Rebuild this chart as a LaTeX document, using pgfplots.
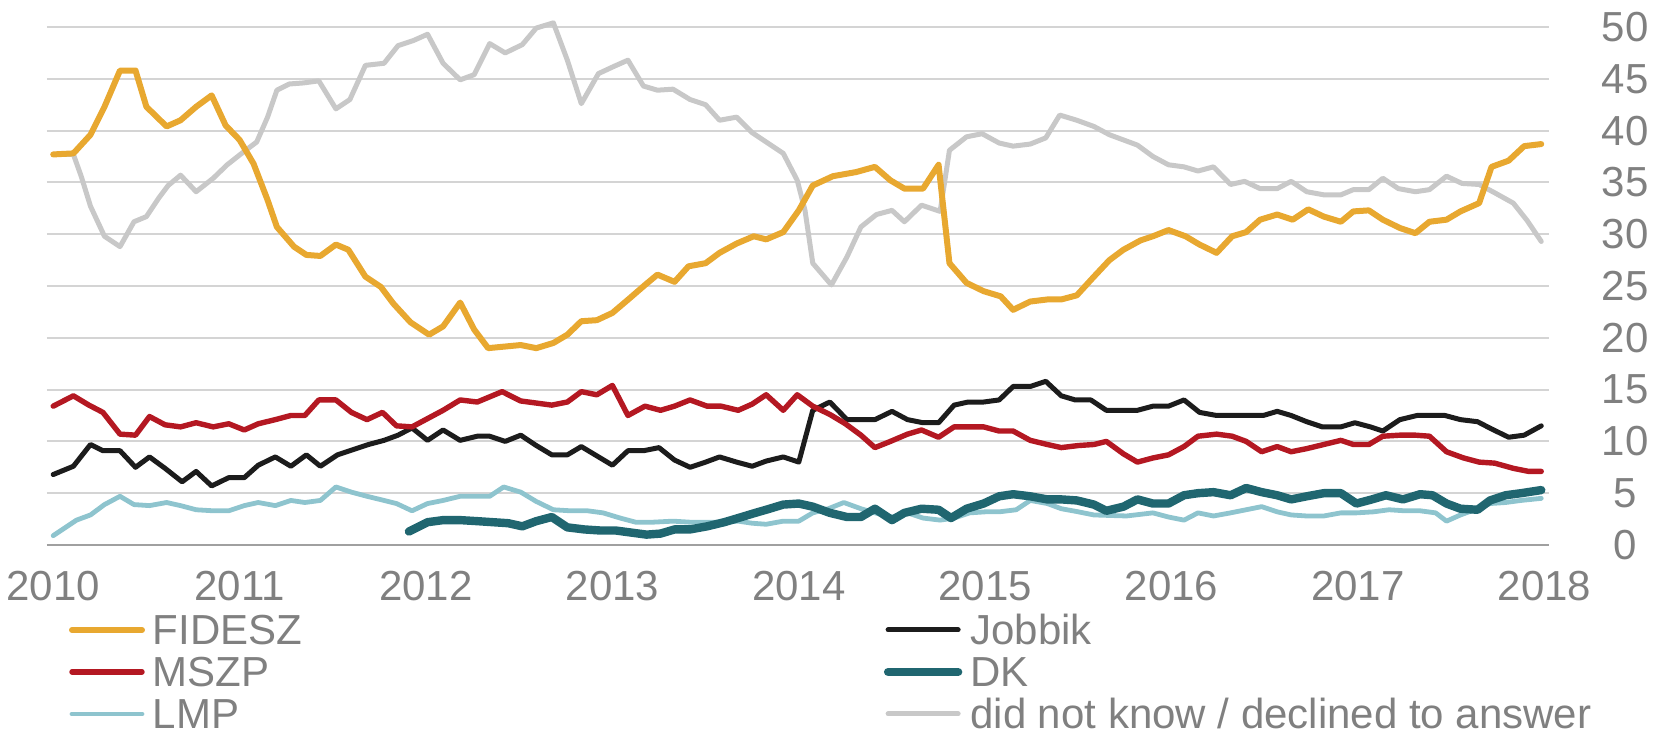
\documentclass[border=0pt]{standalone}
\usepackage{pgfplots}
\pgfplotsset{compat=1.18}
\usepackage{fontspec}
\setmainfont{Liberation Sans}
\definecolor{cFid}{RGB}{232,168,48}
\definecolor{cMszp}{RGB}{180,24,34}
\definecolor{cJob}{RGB}{28,28,28}
\definecolor{cDk}{RGB}{32,102,112}
\definecolor{cLmp}{RGB}{142,196,206}
\definecolor{cDnk}{RGB}{200,200,200}
\definecolor{cGrid}{RGB}{212,212,212}
\definecolor{cAxis}{RGB}{160,160,160}
\definecolor{cText}{RGB}{128,128,128}
\begin{document}
\begin{tikzpicture}[font=\fontsize{10.5}{12.6}\selectfont]
\useasboundingbox (-11.75pt,-47.25pt) rectangle (401.5pt,136.25pt);
\begin{axis}[
  at={(0pt,0pt)}, anchor=south west,
  scale only axis, width=375.5pt, height=129.5pt,
  xmin=-0.4, xmax=96.3, ymin=0, ymax=50,
  clip=false,
  axis line style={draw=none},
  major tick length=0pt,
  xtick={0,12,24,36,48,60,72,84,96},
  xticklabels={2010,2011,2012,2013,2014,2015,2016,2017,2018},
  xticklabel style={anchor=center, yshift=-10.35pt, text=cText},
  ytick={0,5,10,15,20,25,30,35,40,45,50},
  yticklabel pos=right,
  yticklabel style={anchor=center, xshift=19pt, text=cText},
  /pgf/number format/assume math mode=true,
  ymajorgrids, grid style={line width=0.5pt, color=cGrid},
  extra y ticks={0}, extra y tick labels={},
  extra y tick style={grid style={color=cAxis, line width=0.6pt}},
  legend columns=2,
  legend cell align=left,
  legend style={at={(axis description cs:0.01465,-0.1351)}, anchor=north west,
    draw=none, fill=none, inner sep=0pt, outer sep=0pt, row sep=3.0pt,
    nodes={inner sep=0pt, text height=7.5pt, text depth=0pt, text=cText},
    /tikz/every odd column/.append style={column sep=2pt},
    /tikz/every even column/.append style={column sep=145.4pt}},
  legend image code/.code={\draw[#1] (0pt,0pt) -- (17.5pt,0pt);},
  every axis plot/.append style={line join=round, line cap=round},
]
\addlegendimage{cFid, line width=1.5pt}\addlegendentry{FIDESZ}
\addlegendimage{cJob, line width=1.25pt}\addlegendentry{Jobbik}
\addlegendimage{cMszp, line width=1.35pt}\addlegendentry{MSZP}
\addlegendimage{cDk, line width=2.1pt}\addlegendentry{DK}
\addlegendimage{cLmp, line width=1.2pt}\addlegendentry{LMP}
\addlegendimage{cDnk, line width=1.25pt}\addlegendentry{did not know / declined to answer}

% did not know
\addplot[cDnk, line width=1.25pt, forget plot] coordinates {
(0,37.7)(1.3,37.7)(1.8,35.6)(2.4,32.7)(3.3,29.8)(4.3,28.8)(5.2,31.2)(6.0,31.7)(6.8,33.5)(7.4,34.7)(8.2,35.7)(9.2,34.1)(10.3,35.4)(11.2,36.7)(12.3,38.0)(13.1,38.9)(13.8,41.3)(14.4,43.9)(15.2,44.5)(16.1,44.6)(17.1,44.8)(18.2,42.1)(19.1,43.0)(20.1,46.3)(21.3,46.5)(22.2,48.2)(23.2,48.7)(24.1,49.3)(25.1,46.5)(26.2,44.9)(27.1,45.4)(28.1,48.4)(29.1,47.5)(30.2,48.3)(31.1,49.9)(32.2,50.4)(33.1,46.8)(34.0,42.6)(35.1,45.5)(36.1,46.2)(37.0,46.8)(38.0,44.3)(38.9,43.9)(39.9,44.0)(41.0,43.0)(42.0,42.5)(42.9,41.0)(44.0,41.3)(45.0,39.8)(45.9,38.9)(47.0,37.8)(47.9,35.2)(48.4,32.3)(48.9,27.2)(50.1,25.1)(51.1,27.8)(52.0,30.7)(53.0,31.9)(54.0,32.3)(54.8,31.2)(55.9,32.8)(57.1,32.2)(57.7,38.1)(58.8,39.4)(59.8,39.7)(60.9,38.8)(61.8,38.5)(62.9,38.7)(63.9,39.3)(64.8,41.5)(65.9,41.0)(67.0,40.4)(68.0,39.6)(68.9,39.1)(69.8,38.6)(70.8,37.5)(71.8,36.7)(72.8,36.5)(73.7,36.1)(74.7,36.5)(75.8,34.8)(76.7,35.1)(77.7,34.4)(78.8,34.4)(79.7,35.1)(80.7,34.1)(81.8,33.8)(82.9,33.8)(83.7,34.3)(84.7,34.3)(85.6,35.4)(86.6,34.4)(87.7,34.1)(88.6,34.3)(89.7,35.6)(90.7,34.9)(91.8,34.8)(92.8,34.0)(94.0,33.0)(94.9,31.3)(95.8,29.3)
};
% LMP
\addplot[cLmp, line width=1.2pt, forget plot] coordinates {
(0,0.9)(0.5,1.4)(1.5,2.4)(2.4,2.9)(3.3,3.9)(4.3,4.7)(5.2,3.9)(6.2,3.8)(7.3,4.1)(8.2,3.8)(9.2,3.4)(10.3,3.3)(11.3,3.3)(12.3,3.8)(13.2,4.1)(14.3,3.8)(15.3,4.3)(16.2,4.1)(17.2,4.3)(18.2,5.6)(19.2,5.1)(20.2,4.7)(21.3,4.3)(22.1,4.0)(23.1,3.3)(24.1,4.0)(25.1,4.3)(26.2,4.7)(27.3,4.7)(28.1,4.7)(29.0,5.6)(30.1,5.1)(31.1,4.2)(32.2,3.4)(33.3,3.3)(34.4,3.3)(35.4,3.1)(36.5,2.6)(37.5,2.2)(38.6,2.2)(39.9,2.3)(41.0,2.2)(42.1,2.2)(43.2,2.2)(44.1,2.3)(45.0,2.1)(45.9,2.0)(47.0,2.3)(48.0,2.3)(48.9,3.1)(49.9,3.5)(50.9,4.1)(52.0,3.5)(52.9,3.1)(54.0,2.7)(55.0,3.1)(56.0,2.6)(57.1,2.4)(58.0,2.6)(59.0,3.1)(60.0,3.2)(60.9,3.2)(62.0,3.4)(62.9,4.3)(64.0,4.0)(64.9,3.5)(66.0,3.2)(67.0,2.9)(68.0,2.85)(69.1,2.8)(70.8,3.1)(71.8,2.7)(72.8,2.4)(73.7,3.1)(74.7,2.8)(75.8,3.1)(76.8,3.4)(77.8,3.7)(78.8,3.2)(79.7,2.9)(80.7,2.8)(81.8,2.8)(82.9,3.1)(83.9,3.1)(85.0,3.2)(86.0,3.4)(87.0,3.3)(88.0,3.3)(89.0,3.1)(89.7,2.3)(90.6,2.9)(91.7,3.5)(92.5,4.0)(93.5,4.1)(94.5,4.3)(95.8,4.5)
};
% DK
\addplot[cDk, line width=2.1pt, forget plot] coordinates {
(22.9,1.3)(24.1,2.2)(25.1,2.4)(26.2,2.4)(27.3,2.3)(28.3,2.2)(29.3,2.1)(30.2,1.8)(31.1,2.3)(32.1,2.7)(33.1,1.7)(34.2,1.5)(35.2,1.4)(36.2,1.4)(37.2,1.2)(38.2,1.0)(39.1,1.1)(40.0,1.5)(41.0,1.5)(42.1,1.8)(43.2,2.2)(44.1,2.6)(45.2,3.1)(45.9,3.4)(47.0,3.9)(48.0,4.0)(48.9,3.7)(50.0,3.1)(51.1,2.7)(52.0,2.7)(52.9,3.5)(54.0,2.4)(54.8,3.1)(55.9,3.5)(57.0,3.4)(57.8,2.6)(58.8,3.5)(59.9,4.0)(60.9,4.7)(61.8,4.9)(62.9,4.7)(64.0,4.4)(64.9,4.4)(65.9,4.3)(67.0,3.9)(67.8,3.3)(68.9,3.7)(69.8,4.4)(70.8,4.0)(71.8,4.0)(72.8,4.8)(73.7,5.0)(74.7,5.1)(75.8,4.8)(76.8,5.5)(77.8,5.1)(78.8,4.8)(79.7,4.4)(80.7,4.7)(81.8,5.0)(82.9,5.0)(83.9,4.0)(84.9,4.4)(85.8,4.8)(86.9,4.4)(88.0,4.9)(88.8,4.8)(89.7,4.0)(90.6,3.5)(91.7,3.4)(92.5,4.3)(93.5,4.8)(94.5,5.0)(95.8,5.3)
};
% Jobbik
\addplot[cJob, line width=1.25pt, forget plot] coordinates {
(0,6.8)(1.3,7.6)(2.4,9.7)(3.2,9.1)(4.3,9.1)(5.3,7.5)(6.2,8.5)(7.2,7.4)(8.3,6.1)(9.2,7.1)(10.2,5.7)(11.3,6.5)(12.3,6.5)(13.2,7.7)(14.3,8.5)(15.3,7.6)(16.3,8.7)(17.2,7.6)(18.3,8.7)(19.3,9.2)(20.3,9.7)(21.3,10.1)(22.2,10.6)(23.1,11.3)(24.1,10.1)(25.1,11.1)(26.2,10.1)(27.3,10.5)(28.1,10.5)(29.1,10.0)(30.1,10.6)(31.1,9.6)(32.1,8.7)(33.1,8.7)(34.0,9.5)(35.0,8.6)(36.0,7.7)(37.0,9.1)(38.0,9.1)(39.0,9.4)(40.0,8.2)(41.0,7.5)(42.0,8.0)(42.9,8.5)(44.0,8.0)(45.0,7.6)(45.9,8.1)(47.0,8.5)(48.0,8.0)(48.9,13.0)(50.0,13.8)(51.1,12.1)(52.0,12.1)(52.9,12.1)(54.0,12.9)(55.0,12.1)(56.0,11.8)(57.0,11.8)(58.0,13.5)(58.9,13.8)(59.9,13.8)(60.9,14.0)(61.8,15.3)(62.9,15.3)(63.9,15.8)(64.9,14.4)(65.8,14.0)(66.8,14.0)(67.8,13.0)(69.8,13.0)(70.8,13.4)(71.8,13.4)(72.8,14.0)(73.8,12.8)(74.9,12.5)(76.0,12.5)(77.1,12.5)(77.9,12.5)(78.8,12.9)(79.7,12.5)(80.7,11.9)(81.7,11.4)(82.9,11.4)(83.8,11.8)(84.8,11.4)(85.6,11.0)(86.7,12.1)(87.8,12.5)(88.6,12.5)(89.6,12.5)(90.6,12.1)(91.7,11.9)(92.6,11.2)(93.7,10.4)(94.7,10.6)(95.8,11.5)
};
% MSZP
\addplot[cMszp, line width=1.35pt, forget plot] coordinates {
(0,13.4)(1.3,14.4)(2.3,13.5)(3.2,12.8)(4.3,10.7)(5.3,10.6)(6.2,12.4)(7.2,11.6)(8.2,11.4)(9.2,11.8)(10.3,11.4)(11.3,11.7)(12.3,11.1)(13.2,11.7)(14.3,12.1)(15.3,12.5)(16.2,12.5)(17.1,14.0)(18.2,14.0)(19.2,12.8)(20.2,12.1)(21.2,12.8)(22.1,11.5)(23.1,11.4)(24.1,12.2)(25.1,13.0)(26.2,14.0)(27.3,13.8)(28.9,14.8)(30.1,13.9)(31.1,13.7)(32.1,13.5)(33.1,13.8)(34.0,14.8)(35.0,14.5)(36.0,15.4)(37.0,12.5)(38.1,13.4)(39.1,13.0)(40.0,13.4)(41.0,14.0)(42.1,13.4)(43.0,13.4)(44.1,13.0)(45.0,13.6)(45.9,14.5)(47.0,13.0)(47.9,14.5)(48.9,13.4)(50.0,12.6)(51.0,11.7)(52.0,10.6)(52.9,9.4)(53.9,10.0)(55.0,10.7)(55.9,11.1)(57.0,10.4)(58.0,11.4)(59.0,11.4)(59.9,11.4)(60.9,11.0)(61.8,11.0)(62.9,10.1)(64.0,9.7)(64.9,9.4)(66.0,9.6)(67.0,9.7)(67.8,10.0)(68.9,8.8)(69.8,8.0)(70.8,8.4)(71.8,8.7)(72.8,9.5)(73.7,10.5)(74.9,10.7)(75.9,10.5)(76.8,10.0)(77.8,9.0)(78.8,9.5)(79.7,9.0)(80.7,9.3)(81.8,9.7)(82.9,10.1)(83.7,9.7)(84.7,9.7)(85.6,10.5)(86.7,10.6)(87.7,10.6)(88.6,10.5)(89.7,9.0)(90.8,8.4)(91.8,8.0)(92.8,7.9)(94.0,7.4)(95.0,7.1)(95.8,7.1)
};
% FIDESZ
\addplot[cFid, line width=1.5pt, forget plot] coordinates {
(0,37.7)(1.3,37.8)(2.4,39.6)(3.3,42.3)(4.3,45.8)(5.3,45.8)(6.0,42.3)(7.3,40.4)(8.2,41.0)(9.2,42.3)(10.2,43.4)(11.1,40.5)(12.0,39.1)(12.9,36.8)(13.8,33.3)(14.4,30.7)(15.5,28.8)(16.3,28.0)(17.2,27.9)(18.2,29.0)(19.0,28.5)(20.1,25.9)(21.1,24.9)(21.9,23.3)(23.0,21.5)(24.2,20.3)(25.1,21.1)(26.2,23.4)(27.1,20.8)(28.0,19.0)(30.1,19.3)(31.1,19.0)(32.2,19.5)(33.1,20.3)(34.0,21.6)(35.0,21.7)(36.0,22.4)(37.1,23.8)(38.1,25.1)(38.9,26.1)(40.0,25.4)(40.9,26.9)(42.0,27.2)(42.9,28.2)(44.0,29.1)(45.1,29.8)(45.9,29.5)(47.0,30.2)(48.0,32.3)(48.9,34.7)(50.2,35.6)(51.7,36.0)(52.9,36.5)(53.9,35.2)(54.8,34.4)(56.0,34.4)(57.0,36.7)(57.7,27.2)(58.8,25.3)(59.9,24.5)(61.0,24.0)(61.8,22.7)(62.9,23.5)(64.0,23.7)(64.9,23.7)(65.9,24.1)(67.0,25.9)(68.0,27.5)(68.9,28.5)(70.0,29.4)(70.8,29.8)(71.8,30.4)(72.9,29.8)(73.8,29.0)(74.9,28.2)(75.9,29.8)(76.8,30.2)(77.7,31.4)(78.8,31.9)(79.8,31.4)(80.8,32.4)(81.8,31.7)(82.9,31.2)(83.7,32.2)(84.7,32.3)(85.6,31.4)(86.7,30.6)(87.7,30.1)(88.6,31.2)(89.7,31.4)(90.6,32.2)(91.8,33.0)(92.6,36.5)(93.7,37.1)(94.7,38.5)(95.8,38.7)
};
\end{axis}
\end{tikzpicture}
\end{document}
